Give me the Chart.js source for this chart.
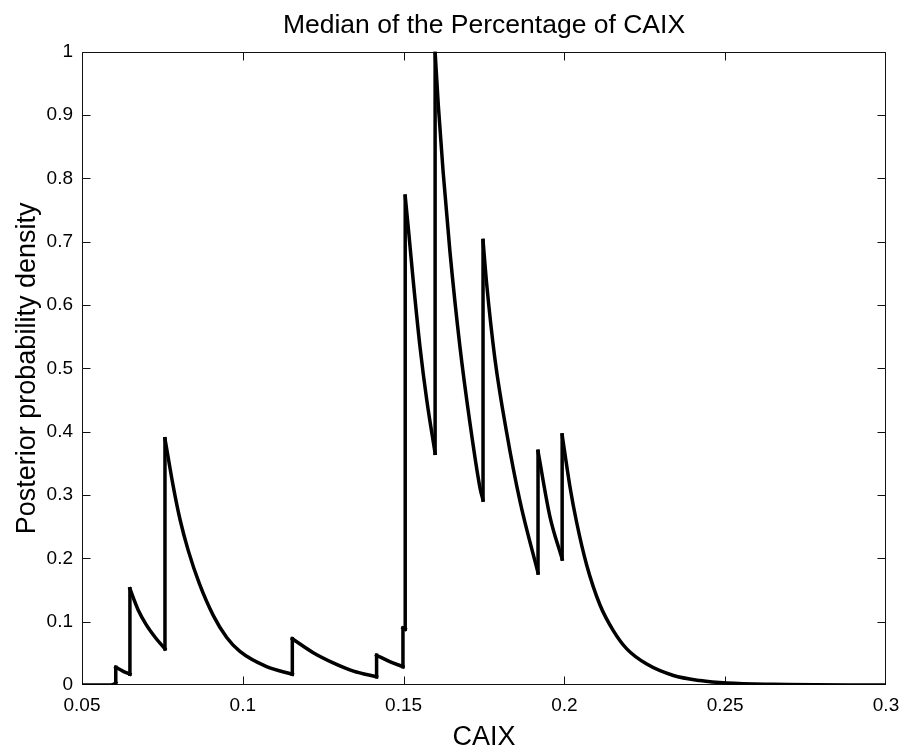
<!DOCTYPE html>
<html>
<head>
<meta charset="utf-8">
<title>Median of the Percentage of CAIX</title>
<script src="https://cdn.jsdelivr.net/npm/chart.js@4.4.1/dist/chart.umd.min.js"></script>
<style>
	html, body { margin: 0; padding: 0; background: #fff; }
	#wrap { width: 904px; height: 751px; }
</style>
</head>
<body>
<div id="wrap"><canvas id="caixChart" width="904" height="751"></canvas></div>
<script>
// CAIX value and posterior density; a repeated x value is a vertical jump
const caix = [
	0.0500, 0.0590, 0.0598, 0.0605,
	0.0605, 0.0627, 0.0649,
	0.0649, 0.0675, 0.0700, 0.0728, 0.0758,
	0.0758, 0.0784, 0.0805, 0.0830, 0.0865, 0.0908, 0.0950, 0.0991, 0.1074, 0.1154,
	0.1154, 0.1219, 0.1281, 0.1344, 0.1416,
	0.1416, 0.1457, 0.1498,
	0.1498, 0.1505,
	0.1505, 0.1515, 0.1530, 0.1551, 0.1572, 0.1598,
	0.1598, 0.1608, 0.1623, 0.1644, 0.1675, 0.1706, 0.1738, 0.1747,
	0.1747, 0.1758, 0.1784, 0.1820, 0.1862, 0.1918,
	0.1918, 0.1955, 0.1993,
	0.1993, 0.2017, 0.2038, 0.2069, 0.2111, 0.2152, 0.2194, 0.2256, 0.2339, 0.2422, 0.2505, 0.2650, 0.3000
];
const density = [
	0.000, 0.000, 0.001, 0.004,
	0.028, 0.022, 0.017,
	0.152, 0.118, 0.095, 0.075, 0.057,
	0.389, 0.313, 0.261, 0.213, 0.160, 0.110, 0.075, 0.053, 0.029, 0.017,
	0.073, 0.051, 0.035, 0.022, 0.013,
	0.047, 0.037, 0.029,
	0.090, 0.088,
	0.772, 0.720, 0.638, 0.534, 0.450, 0.366,
	1.000, 0.915, 0.810, 0.685, 0.535, 0.415, 0.310, 0.292,
	0.702, 0.635, 0.515, 0.400, 0.290, 0.177,
	0.369, 0.266, 0.199,
	0.395, 0.314, 0.257, 0.190, 0.126, 0.086, 0.057, 0.033, 0.015, 0.007, 0.003, 0.001, 0.000
];

const xTicks = [0.05, 0.1, 0.15, 0.2, 0.25, 0.3];
const xTickLabels = ["0.05", "0.1", "0.15", "0.2", "0.25", "0.3"];
const yTicks = [0, 0.1, 0.2, 0.3, 0.4, 0.5, 0.6, 0.7, 0.8, 0.9, 1];
const yTickLabels = ["0", "0.1", "0.2", "0.3", "0.4", "0.5", "0.6", "0.7", "0.8", "0.9", "1"];

// split into smooth decaying pieces and the straight vertical steps between them
const smoothPts = [];
const stepPts = [];
for (let i = 0; i < caix.length; i++) {
	if (i > 0 && caix[i] === caix[i - 1]) {
		smoothPts.push({ x: caix[i], y: null });
		stepPts.push({ x: caix[i - 1], y: density[i - 1] }, { x: caix[i], y: density[i] }, { x: caix[i], y: null });
	}
	smoothPts.push({ x: caix[i], y: density[i] });
}

// axes box with inward ticks on all four sides
const boxTicks = {
	id: "boxTicks",
	beforeDatasetsDraw(chart) {
		const { ctx, chartArea: a, scales } = chart;
		const l = Math.round(a.left) + 0.5, r = Math.round(a.right) - 0.5;
		const t = Math.round(a.top) + 0.5, b = Math.round(a.bottom) - 0.5;
		const len = 8;
		const clampX = v => Math.min(Math.max(v, l), r);
		const clampY = v => Math.min(Math.max(v, t), b);
		ctx.save();
		ctx.strokeStyle = "#111";
		ctx.lineWidth = 1;
		ctx.beginPath();
		ctx.rect(l, t, r - l, b - t);
		xTicks.forEach(v => {
			const px = clampX(Math.round(scales.x.getPixelForValue(v)) + 0.5);
			ctx.moveTo(px, b); ctx.lineTo(px, b - len);
			ctx.moveTo(px, t); ctx.lineTo(px, t + len);
		});
		yTicks.forEach(v => {
			const py = clampY(Math.round(scales.y.getPixelForValue(v)) + 0.5);
			ctx.moveTo(l, py); ctx.lineTo(l + len, py);
			ctx.moveTo(r, py); ctx.lineTo(r - len, py);
		});
		ctx.stroke();
		ctx.restore();
	}
};

Chart.defaults.font.family = "'Liberation Sans', Arial, Helvetica, sans-serif";
Chart.defaults.color = "#000";

const ctx = document.getElementById("caixChart").getContext("2d");
new Chart(ctx, {
	type: "line",
	data: {
		datasets: [
			{
				data: smoothPts,
				borderColor: "#000",
				borderWidth: 3.5,
				pointRadius: 0,
				cubicInterpolationMode: "monotone",
				borderCapStyle: "square",
				spanGaps: false,
			},
			{
				data: stepPts,
				borderColor: "#000",
				borderWidth: 3.5,
				pointRadius: 0,
				tension: 0,
				borderCapStyle: "square",
				spanGaps: false,
			},
		],
	},
	options: {
		responsive: false,
		animation: false,
		events: [],
		layout: { padding: { top: 0, right: 18, bottom: 0, left: 0 } },
		scales: {
			x: {
				type: "linear",
				min: 0.05,
				max: 0.3,
				afterBuildTicks: s => { s.ticks = xTicks.map(v => ({ value: v })); },
				afterFit: s => { s.height = 66; s.paddingLeft = 0; s.paddingRight = 0; },
				grid: { display: false, drawTicks: false },
				border: { display: false },
				ticks: {
					padding: 9,
					maxRotation: 0,
					font: { size: 19 },
					callback: (v, i) => xTickLabels[i],
				},
				title: {
					display: true,
					text: "CAIX",
					font: { size: 27 },
					padding: { top: 0, bottom: -3 },
				},
			},
			y: {
				type: "linear",
				min: 0,
				max: 1,
				afterBuildTicks: s => { s.ticks = yTicks.map(v => ({ value: v })); },
				afterFit: s => { s.width = 82; },
				grid: { display: false, drawTicks: false },
				border: { display: false },
				ticks: {
					padding: 9,
					font: { size: 19 },
					callback: (v, i) => yTickLabels[i],
				},
				title: {
					display: true,
					text: "Posterior probability density",
					font: { size: 27 },
					padding: { top: 11, bottom: 0 },
				},
			},
		},
		plugins: {
			legend: { display: false },
			tooltip: { enabled: false },
			title: {
				display: true,
				fullSize: false,
				text: "Median of the Percentage of CAIX",
				font: { size: 26.5, weight: "normal" },
				padding: { top: 10, bottom: 10 },
			},
		},
	},
	plugins: [boxTicks],
});
</script>
</body>
</html>
